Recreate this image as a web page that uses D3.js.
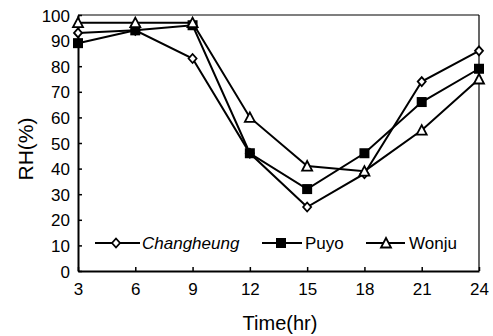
<!DOCTYPE html>
<html><head><meta charset="utf-8">
<script src="https://cdn.jsdelivr.net/npm/d3@7/dist/d3.min.js"></script>
<style>body{margin:0;background:#fff}</style>
</head><body>
<svg id="c" width="493" height="336"></svg>
<script>
const hours = [3, 6, 9, 12, 15, 18, 21, 24];
const changheung = [93, 94, 83, 46, 25, 38, 74, 86];
const puyo = [89, 94, 96, 46, 32, 46, 66, 79];
const wonju = [97, 97, 97, 60, 41, 39, 55, 75];
const yTicks = [0, 10, 20, 30, 40, 50, 60, 70, 80, 90, 100];
const seriesNames = ["Changheung", "Puyo", "Wonju"];

const svg = d3.select("#c");
const L = 78, R = 479, T = 15, B = 271;
const x = d3.scaleLinear().domain([3, 24]).range([L, R]);
const y = d3.scaleLinear().domain([0, 100]).range([B, T]);
const font = "Liberation Sans, Arial, sans-serif";

svg.append("line").attr("x1", L).attr("x2", R).attr("y1", T).attr("y2", T).attr("stroke", "#000").attr("stroke-width", 1.2);
svg.append("line").attr("x1", R).attr("x2", R).attr("y1", T).attr("y2", B).attr("stroke", "#000").attr("stroke-width", 1.2);

const yAxis = svg.append("g").attr("transform", `translate(${L},0)`)
  .call(d3.axisLeft(y).tickValues(yTicks).tickSizeInner(-4).tickSizeOuter(0).tickPadding(8));
const xAxis = svg.append("g").attr("transform", `translate(0,${B})`)
  .call(d3.axisBottom(x).tickValues(hours).tickSizeInner(-4).tickSizeOuter(0).tickPadding(12));
[yAxis, xAxis].forEach(a => {
  a.select(".domain").attr("stroke", "#000").attr("stroke-width", 2);
  a.selectAll(".tick line").attr("stroke", "#000").attr("stroke-width", 1.5);
  a.selectAll("text").attr("fill", "#000").style("font-family", font).style("font-size", "17px");
});
yAxis.selectAll("text").attr("dy", "0.36em");

svg.append("text").attr("transform", `translate(33,${(T + B) / 2 + 6}) rotate(-90)`)
  .attr("text-anchor", "middle").style("font-family", font).style("font-size", "21px").text("RH(%)");
svg.append("text").attr("x", 280).attr("y", 330).attr("text-anchor", "middle")
  .style("font-family", font).style("font-size", "20px").text("Time(hr)");

const line = d3.line().x((d, i) => x(hours[i])).y(d => y(d));
const data = [changheung, puyo, wonju];
data.forEach(s => {
  svg.append("path").datum(s).attr("d", line).attr("fill", "none").attr("stroke", "#000").attr("stroke-width", 2);
});

function marker(g, k, cx, cy) {
  if (k === 0) {
    g.append("path").attr("d", "M0,-4.5L4,0L0,4.5L-4,0Z").attr("transform", `translate(${cx},${cy})`)
      .attr("fill", "#fff").attr("stroke", "#000").attr("stroke-width", 1.8);
  } else if (k === 1) {
    g.append("rect").attr("x", cx - 5).attr("y", cy - 5).attr("width", 10).attr("height", 10).attr("fill", "#000");
  } else {
    g.append("path").attr("d", "M0,-5L5,4.5L-5,4.5Z").attr("transform", `translate(${cx},${cy})`)
      .attr("fill", "#fff").attr("stroke", "#000").attr("stroke-width", 1.8);
  }
}
const mg = svg.append("g");
data.forEach((s, k) => s.forEach((v, i) => marker(mg, k, x(hours[i]), y(v))));

const legY = 243;
const leg = [{x0: 95, x1: 140, m: 116, t: 142}, {x0: 262, x1: 302, m: 281, t: 305}, {x0: 366, x1: 405, m: 386, t: 409}];
leg.forEach((p, k) => {
  svg.append("line").attr("x1", p.x0).attr("x2", p.x1).attr("y1", legY).attr("y2", legY).attr("stroke", "#000").attr("stroke-width", 2);
  marker(svg, k, p.m, legY);
  svg.append("text").attr("x", p.t).attr("y", legY + 6).style("font-family", font).style("font-size", "17px")
    .style("font-style", k === 0 ? "italic" : "normal").text(seriesNames[k]);
});
</script>
</body></html>
